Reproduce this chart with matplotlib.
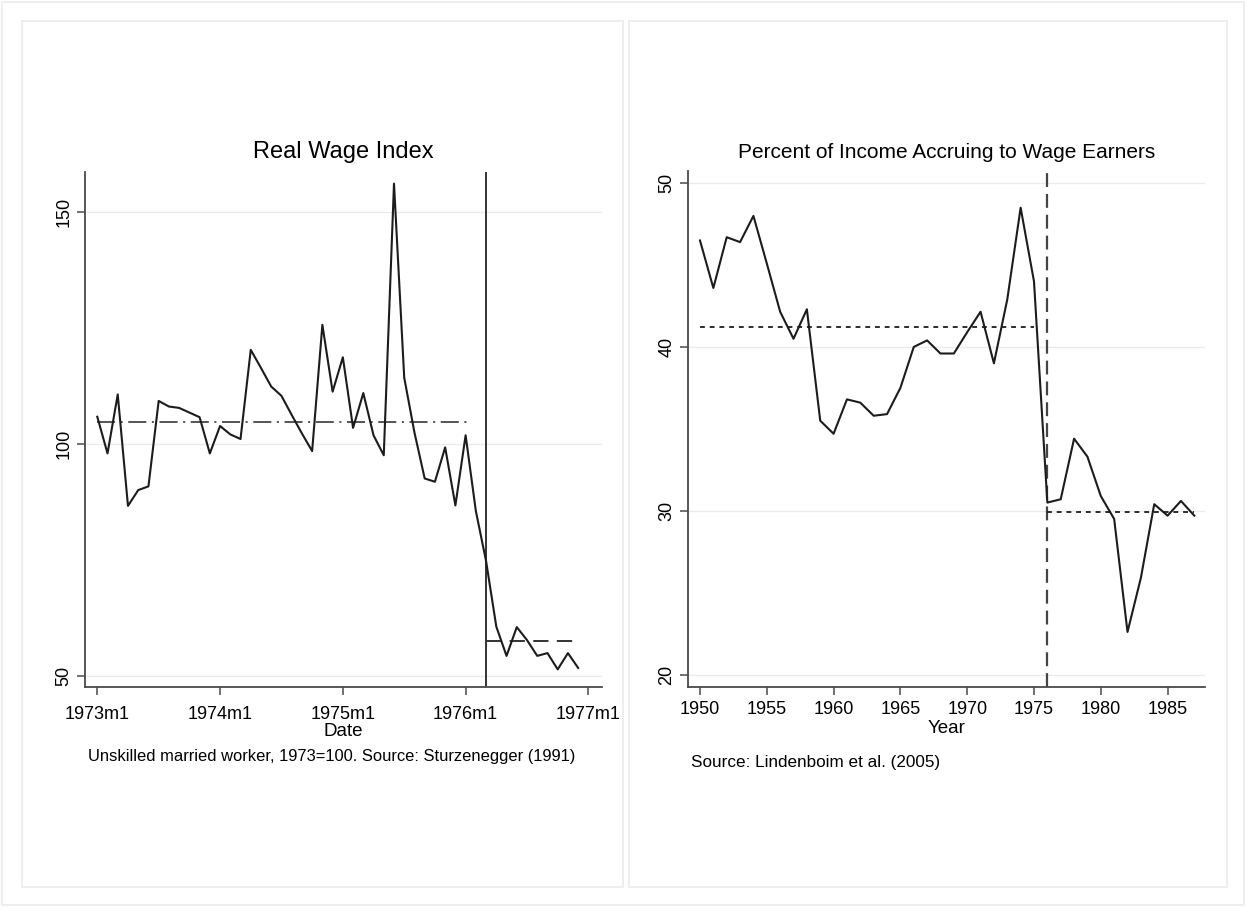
import numpy as np
import matplotlib
matplotlib.use("Agg")
import matplotlib.pyplot as plt
from matplotlib.patches import Rectangle

plt.rcParams['font.family'] = ['Liberation Sans', 'DejaVu Sans']
plt.rcParams['lines.scale_dashes'] = False

# ---- Real wage index, monthly 1973m1 - 1976m12 (1973 = 100) ----
wage_months = np.arange(48)  # months since 1973m1
wage_index = [105.9, 98.0, 110.7, 86.7, 90.1, 90.9, 109.3, 108.1, 107.8, 106.8,
              105.8, 98.0, 103.9, 102.1, 101.1, 120.3, 116.4, 112.4, 110.4, 106.3,
              102.3, 98.5, 125.7, 111.3, 118.7, 103.5, 111.0, 101.9, 97.6, 156.1,
              114.3, 102.5, 92.6, 91.9, 99.3, 86.8, 101.9, 85.6, 74.8, 60.7,
              54.4, 60.6, 57.8, 54.4, 55.0, 51.5, 55.0, 51.8]
wage_break = 38          # 1976m3
wage_mean_before = 104.8
wage_mean_after = 57.6
wage_xticks = [0, 12, 24, 36, 48]
wage_xticklabels = ['1973m1', '1974m1', '1975m1', '1976m1', '1977m1']
wage_yticks = [50, 100, 150]

# ---- Wage share of income, annual 1950 - 1987 ----
share_years = np.arange(1950, 1988)
wage_share = [46.5, 43.6, 46.7, 46.4, 48.0, 45.1, 42.15, 40.5, 42.3, 35.5,
              34.7, 36.8, 36.6, 35.8, 35.9, 37.5, 40.0, 40.4, 39.6, 39.6,
              40.9, 42.15, 39.0, 42.9, 48.5, 44.0, 30.5, 30.7, 34.4, 33.3,
              30.9, 29.5, 22.6, 25.9, 30.4, 29.7, 30.6, 29.7]
share_break = 1976
share_mean_before = 41.2
share_mean_after = 29.9
share_xticks = [1950, 1955, 1960, 1965, 1970, 1975, 1980, 1985]
share_yticks = [20, 30, 40, 50]

W, H = 1247, 907
fig = plt.figure(figsize=(W / 100, H / 100), dpi=100)
fig.patch.set_facecolor('white')


def px_box(x0, y0, x1, y1):
    """Pixel box (top-left origin) to figure fraction rect."""
    return [x0 / W, 1 - y1 / H, (x1 - x0) / W, (y1 - y0) / H]


# panel frames of the combined graph
frame_col = '#e9ecec'
for (x0, y0, x1, y1) in [(1.5, 1.5, 1244, 905), (22, 21, 623, 887), (629, 21, 1227, 887)]:
    fig.patches.append(Rectangle((x0 / W, 1 - y1 / H), (x1 - x0) / W, (y1 - y0) / H,
                                 transform=fig.transFigure, fill=False,
                                 edgecolor=frame_col, linewidth=1.2))

line_col = '#1c1c1c'
axis_col = '#4a4a4a'
grid_col = '#ebebeb'


def style_axes(ax, xpad):
    for s in ['top', 'right']:
        ax.spines[s].set_visible(False)
    for s in ['left', 'bottom']:
        ax.spines[s].set_color(axis_col)
        ax.spines[s].set_linewidth(1.3)
    ax.tick_params(axis='both', direction='out', length=6, width=1.1,
                   color=axis_col, labelsize=13, labelcolor='black', pad=3)
    ax.tick_params(axis='x', pad=xpad)
    ax.yaxis.grid(True, color=grid_col, linewidth=1.0)
    ax.set_axisbelow(True)
    for lab in ax.get_yticklabels():
        lab.set_rotation(90)
        lab.set_va('center')


# ---- left panel ----
ax1 = fig.add_axes(px_box(85, 172, 601.7, 687))
ax1.plot(wage_months, wage_index, color=line_col, linewidth=1.5, zorder=3)
ax1.axvline(wage_break, color='#333333', linewidth=1.4, zorder=2)
ax1.plot([0, 36.2], [wage_mean_before] * 2, color='#555555', linewidth=1.4,
         dashes=(13, 4, 1.5, 4), zorder=2)
ax1.plot([wage_break, 47], [wage_mean_after] * 2, color='#333333', linewidth=1.4,
         dashes=(11, 6), zorder=2)
ax1.set_xlim(-1.2, 49.3)
ax1.set_ylim(47.7, 158.6)
ax1.set_xticks(wage_xticks)
ax1.set_xticklabels(wage_xticklabels)
ax1.set_yticks(wage_yticks)
style_axes(ax1, xpad=8)
ax1.set_xlabel('Date', fontsize=13.5, labelpad=0)
ax1.set_title('Real Wage Index', fontsize=17, pad=10)
fig.text(88 / W, 1 - 757 / H,
         'Unskilled married worker, 1973=100. Source: Sturzenegger (1991)',
         fontsize=11.9, ha='left', va='center')

# ---- right panel ----
ax2 = fig.add_axes(px_box(687.7, 170.7, 1205, 687))
ax2.plot(share_years, wage_share, color=line_col, linewidth=1.5, zorder=3)
ax2.axvline(share_break, color='#444444', linewidth=1.6, dashes=(10, 5), zorder=2)
ax2.plot([1950, 1975], [share_mean_before] * 2, color=line_col, linewidth=1.3,
         dashes=(3.5, 3.5), zorder=2)
ax2.plot([share_break, 1987], [share_mean_after] * 2, color=line_col, linewidth=1.3,
         dashes=(3.5, 3.5), zorder=2)
ax2.set_xlim(1949.08, 1987.8)
ax2.set_ylim(19.24, 50.76)
ax2.set_xticks(share_xticks)
ax2.set_yticks(share_yticks)
style_axes(ax2, xpad=4)
ax2.set_xlabel('Year', fontsize=13.5, labelpad=1.5)
ax2.set_title('Percent of Income Accruing to Wage Earners', fontsize=15, pad=9)
fig.text(691 / W, 1 - 762 / H, 'Source: Lindenboim et al. (2005)',
         fontsize=12.3, ha='left', va='center')

fig.savefig('out.png', dpi=100, facecolor=fig.get_facecolor())
